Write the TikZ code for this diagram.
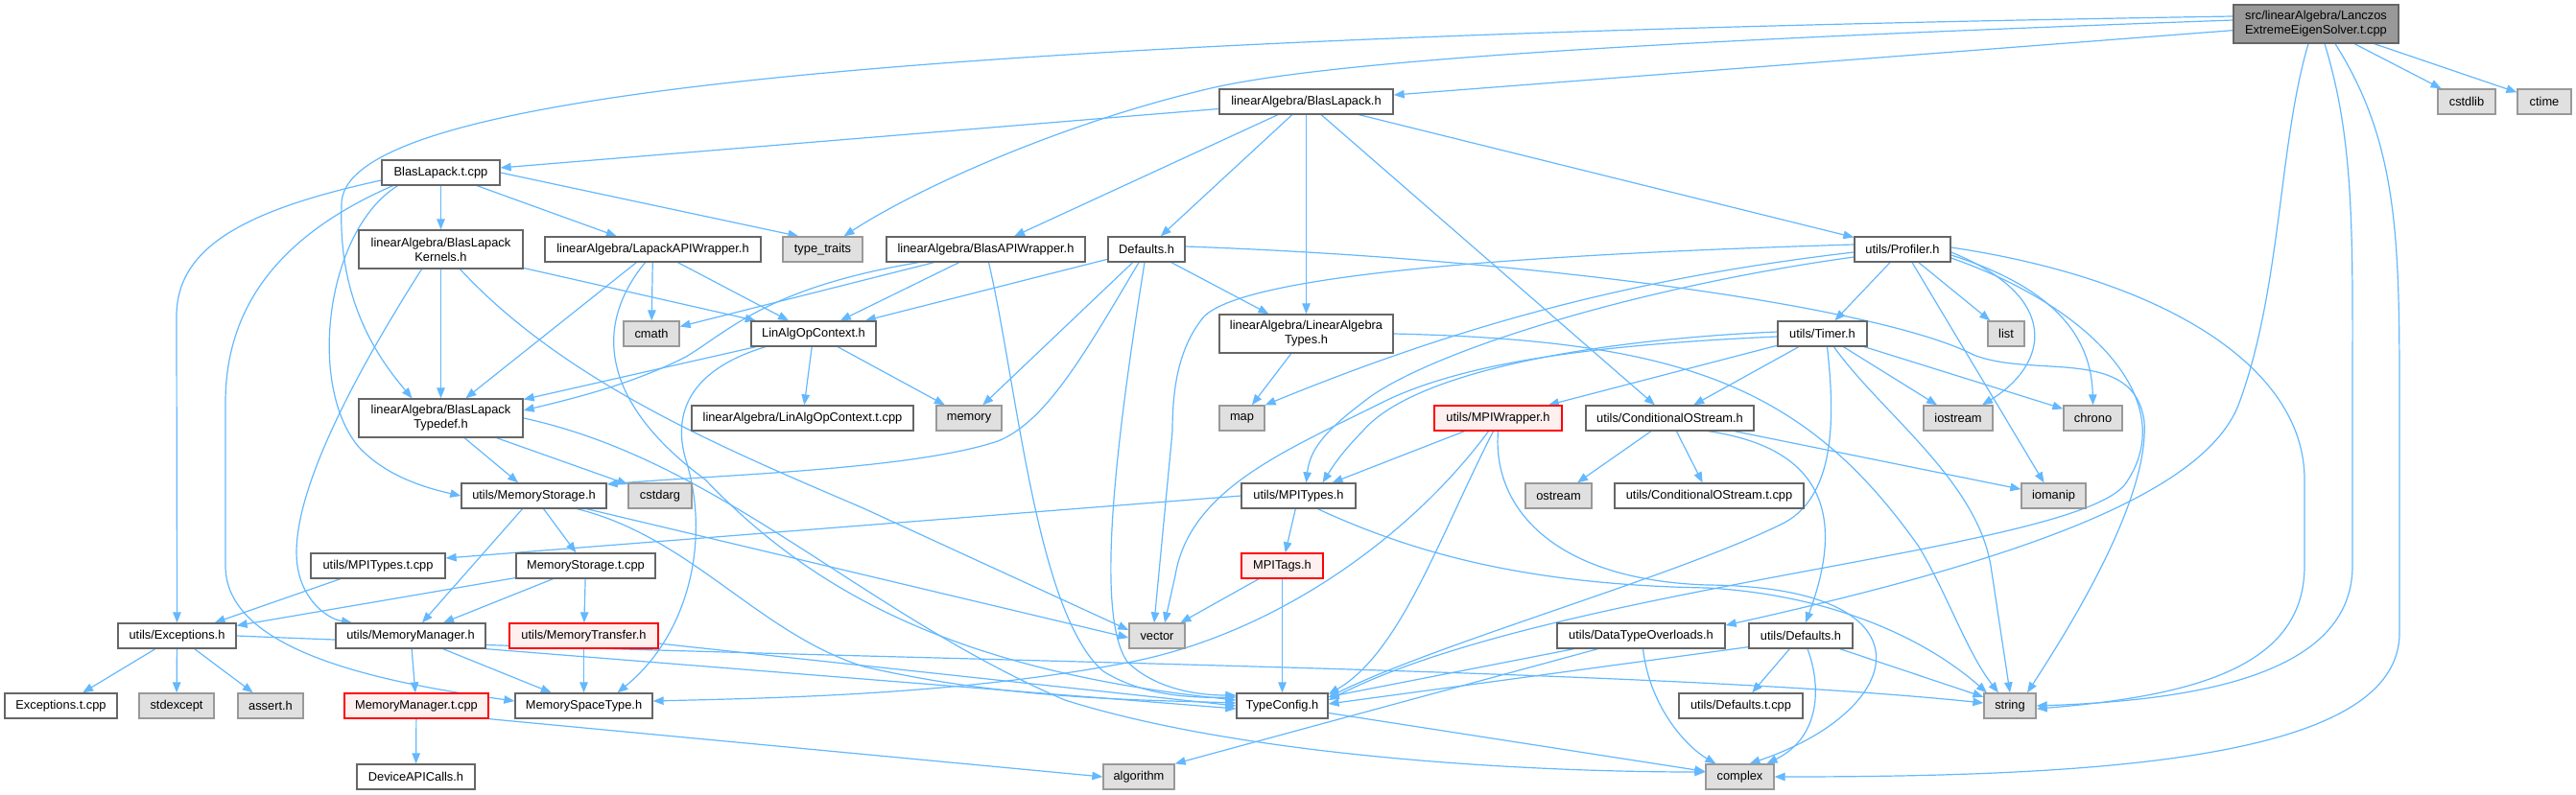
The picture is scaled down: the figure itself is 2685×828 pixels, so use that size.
\documentclass[tikz,border=0pt]{standalone}
\usepackage{fontspec}
\setmainfont{Liberation Sans}
\usetikzlibrary{arrows.meta}
\definecolor{edgec}{HTML}{63B8FF}
\definecolor{fborder}{HTML}{666666}
\definecolor{sfill}{HTML}{E0E0E0}
\definecolor{sborder}{HTML}{999999}
\definecolor{rootfill}{HTML}{999999}
\definecolor{redfill}{HTML}{FFF0F0}
\definecolor{redborder}{HTML}{FF0000}
\pgfdeclarelayer{background}
\pgfsetlayers{background,main}
\begin{document}
\begin{tikzpicture}[x=1pt,y=-1pt,
 box/.style={draw=fborder, fill=white, line width=1.3pt, inner sep=0pt, minimum height=26pt, align=center, font=\fontsize{12.84}{15}\selectfont},
 sysbox/.style={box, draw=sborder, fill=sfill},
 redbox/.style={box, draw=redborder, fill=redfill},
 rootbox/.style={box, fill=rootfill, minimum height=40pt},
 tallbox/.style={box, minimum height=40pt},
 edge/.style={draw=edgec, line width=1.2pt, -{Triangle[length=11pt,width=8.5pt]}},
]
\useasboundingbox (0,0) rectangle (2685,828);

% nodes
\node[rootbox, minimum width=172pt] (root) at (2414,25) {src/linearAlgebra/Lanczos\\ExtremeEigenSolver.t.cpp};
\node[sysbox, minimum width=60pt] (cstdlib) at (2571,106) {cstdlib};
\node[sysbox, minimum width=56pt] (ctime) at (2652,106) {ctime};
\node[box, minimum width=181pt] (blh) at (1361.5,106) {linearAlgebra/BlasLapack.h};
\node[box, minimum width=123pt] (blt) at (459.5,180) {BlasLapack.t.cpp};
\node[tallbox, minimum width=171pt] (kern) at (459.5,260) {linearAlgebra/BlasLapack\\Kernels.h};
\node[box, minimum width=225pt] (lapack) at (680.5,260) {linearAlgebra/LapackAPIWrapper.h};
\node[sysbox, minimum width=83pt] (ttraits) at (857.5,260) {type\_traits};
\node[box, minimum width=207pt] (bapi) at (1027.5,260) {linearAlgebra/BlasAPIWrapper.h};
\node[box, minimum width=80pt] (defs) at (1195,260) {Defaults.h};
\node[box, minimum width=100pt] (prof) at (1983,260) {utils/Profiler.h};
\node[sysbox, minimum width=58pt] (cmath) at (679,348) {cmath};
\node[box, minimum width=130pt] (linalg) at (848,348) {LinAlgOpContext.h};
\node[tallbox, minimum width=181pt] (lat) at (1361.5,348) {linearAlgebra/LinearAlgebra\\Types.h};
\node[box, minimum width=93pt] (timer) at (1899.5,348) {utils/Timer.h};
\node[sysbox, minimum width=38pt] (list) at (2091,348) {list};
\node[tallbox, minimum width=171pt] (tdef) at (459.5,436) {linearAlgebra/BlasLapack\\Typedef.h};
\node[box, minimum width=231pt] (lct) at (836.5,436) {linearAlgebra/LinAlgOpContext.t.cpp};
\node[sysbox, minimum width=68pt] (memory) at (1010,436) {memory};
\node[sysbox, minimum width=47pt] (map) at (1294.5,436) {map};
\node[redbox, minimum width=133pt] (mpiw) at (1561.5,436) {utils/MPIWrapper.h};
\node[box, minimum width=175pt] (cos) at (1740.5,436) {utils/ConditionalOStream.h};
\node[sysbox, minimum width=72pt] (iostream) at (2041,436) {iostream};
\node[sysbox, minimum width=61pt] (chrono) at (2181.5,436) {chrono};
\node[box, minimum width=151pt] (memstor) at (556.5,517) {utils/MemoryStorage.h};
\node[sysbox, minimum width=66pt] (cstdarg) at (688,517) {cstdarg};
\node[box, minimum width=119pt] (mpit) at (1353.5,517) {utils/MPITypes.h};
\node[sysbox, minimum width=69pt] (ostream) at (1624.5,517) {ostream};
\node[box, minimum width=197pt] (cost) at (1781.5,517) {utils/ConditionalOStream.t.cpp};
\node[sysbox, minimum width=67pt] (iomanip) at (2140.5,517) {iomanip};
\node[box, minimum width=140pt] (mpitt) at (394,590) {utils/MPITypes.t.cpp};
\node[box, minimum width=145pt] (mstt) at (610.5,590) {MemoryStorage.t.cpp};
\node[redbox, minimum width=85pt] (mpitags) at (1336.5,590) {MPITags.h};
\node[box, minimum width=123pt] (exc) at (184.5,663) {utils/Exceptions.h};
\node[box, minimum width=156pt] (mm) at (428,663) {utils/MemoryManager.h};
\node[redbox, minimum width=155pt] (mtr) at (608.5,663) {utils/MemoryTransfer.h};
\node[sysbox, minimum width=58pt] (vector) at (1206,663) {vector};
\node[box, minimum width=175pt] (dto) at (1710.5,663) {utils/DataTypeOverloads.h};
\node[box, minimum width=108pt] (udef) at (1877,663) {utils/Defaults.h};
\node[box, minimum width=117pt] (exct) at (63.5,736) {Exceptions.t.cpp};
\node[sysbox, minimum width=78pt] (stdexcept) at (184,736) {stdexcept};
\node[sysbox, minimum width=68pt] (assert) at (282,736) {assert.h};
\node[redbox, minimum width=150pt] (mmt) at (434,736) {MemoryManager.t.cpp};
\node[box, minimum width=143pt] (mspace) at (608.5,736) {MemorySpaceType.h};
\node[box, minimum width=95pt] (tc) at (1336.5,736) {TypeConfig.h};
\node[box, minimum width=129pt] (udeft) at (1814.5,736) {utils/Defaults.t.cpp};
\node[sysbox, minimum width=54pt] (string) at (2095,736) {string};
\node[box, minimum width=123pt] (dev) at (433.5,810) {DeviceAPICalls.h};
\node[sysbox, minimum width=74pt] (algorithm) at (1187,810) {algorithm};
\node[sysbox, minimum width=71pt] (complex) at (1813.5,810) {complex};

\begin{pgfonlayer}{background}
% root
\draw[edge] (root) -- (blh);
\draw[edge] ([yshift=4pt]root.west) .. controls (1800,40) and (1400,60) .. (1262,92) .. controls (1100,130) and (950,200) .. ([xshift=22pt]ttraits.north);
\draw[edge] ([yshift=8pt]root.west) .. controls (900,40) and (350,100) .. (356,215) .. controls (352,320) and (400,380) .. ([xshift=-30pt]tdef.north);
\draw[edge] ([xshift=-8pt]root.south) .. controls (2375,150) and (2378,300) .. (2334,420) .. controls (2299,516) and (2100,585) .. ([yshift=11pt]dto.east);
\draw[edge] ([xshift=9pt]root.south) .. controls (2455,150) and (2452,250) .. (2452,420) -- (2452,590) .. controls (2452,700) and (2300,730) .. (string.east);
\draw[edge] ([xshift=20pt]root.south) .. controls (2500,150) and (2501,250) .. (2501,420) -- (2501,660) .. controls (2501,790) and (2200,810) .. (complex.east);
\draw[edge] (root) -- (cstdlib);
\draw[edge] (root) -- (ctime);
% BlasLapack.h
\draw[edge] (blh) -- (blt);
\draw[edge] (blh) -- (bapi);
\draw[edge] (blh) -- (defs);
\draw[edge] (blh) -- (lat);
\draw[edge] (blh) -- (cos);
\draw[edge] (blh) -- (prof);
% BlasLapack.t.cpp
\draw[edge] (blt) -- (kern);
\draw[edge] (blt) -- (lapack);
\draw[edge] (blt.east) -- ([xshift=-25pt]ttraits.north);
\draw[edge] ([yshift=-8pt]blt.west) .. controls (250,220) and (184,260) .. (184,330) -- (exc.north);
\draw[edge] ([xshift=-45pt]blt.south) .. controls (340,240) and (320,400) .. (373,465) .. controls (400,495) and (440,508) .. (memstor.west);
\draw[edge] ([xshift=-50pt]blt.south) .. controls (280,250) and (235,330) .. (235,420) -- (235,590) .. controls (235,680) and (400,712) .. ([yshift=5pt]mspace.west);
% Kernels
\draw[edge] (kern) -- (tdef);
\draw[edge] (kern) -- (linalg);
\draw[edge] ([xshift=-20pt]kern.south) .. controls (370,390) and (300,520) .. (310,590) .. controls (315,625) and (340,645) .. ([xshift=-61pt]mm.north);
\draw[edge] ([xshift=20pt]kern.south) .. controls (590,400) and (760,470) .. (900,530) -- ([yshift=6pt]vector.west);
% LapackAPIWrapper
\draw[edge] (lapack) -- (tdef);
\draw[edge] (lapack) -- (cmath);
\draw[edge] (lapack) -- (linalg);
\draw[edge] ([xshift=-8pt]lapack.south) .. controls (610,350) and (640,430) .. (735,500) .. controls (850,620) and (1000,700) .. ([yshift=6pt]tc.west);
% BlasAPIWrapper
\draw[edge] (bapi) -- (cmath);
\draw[edge] ([xshift=-70pt]bapi.south) .. controls (800,300) and (760,345) .. (715,372) .. controls (660,400) and (600,415) .. ([yshift=8pt]tdef.east);
\draw[edge] (bapi) -- (linalg);
\draw[edge] ([xshift=3pt]bapi.south) .. controls (1060,400) and (1080,640) .. (1150,700) .. controls (1190,725) and (1240,728) .. ([yshift=9pt]tc.west);
% Defaults.h
\draw[edge] (defs) -- (linalg);
\draw[edge] (defs) -- (memory);
\draw[edge] ([xshift=-8pt]defs.south) .. controls (1130,370) and (1090,440) .. (1040,460) .. controls (950,490) and (750,495) .. ([yshift=12pt]memstor.east);
\draw[edge] ([xshift=-2pt]defs.south) .. controls (1165,450) and (1140,640) .. (1175,690) .. controls (1200,715) and (1240,725) .. ([yshift=11pt]tc.west);
\draw[edge] (defs) -- (lat);
\draw[edge] ([yshift=3pt]defs.east) .. controls (1600,270) and (1960,320) .. (2057,370) .. controls (2120,395) and (2225,360) .. (2235,440) .. controls (2240,520) and (2160,650) .. ([xshift=18pt]string.north);
% Profiler
\draw[edge] (prof) -- (timer);
\draw[edge] (prof) -- (list);
\draw[edge] ([xshift=10pt]prof.south) -- ([xshift=-10pt]iomanip.north);
\draw[edge] ([yshift=2pt]prof.east) .. controls (2250,290) and (2402,380) .. (2402,500) -- (2402,590) .. controls (2402,690) and (2300,725) .. ([yshift=-3pt]string.east);
\draw[edge] ([yshift=-3pt]prof.east) .. controls (2150,310) and (2135,380) .. ([xshift=25pt]iostream.north);
\draw[edge] ([yshift=-6pt]prof.east) .. controls (2140,300) and (2180,350) .. (chrono.north);
\draw[edge] ([yshift=-9pt]prof.east) .. controls (2180,320) and (2275,420) .. (2215,505) .. controls (2160,575) and (1620,610) .. ([yshift=6pt]tc.east);
\draw[edge] ([yshift=-3pt]prof.west) .. controls (1700,290) and (1520,340) .. (map.north east);
\draw[edge] ([yshift=5pt]prof.west) .. controls (1600,265) and (1300,285) .. (1255,330) .. controls (1230,360) and (1222,400) .. (1222,450) -- ([xshift=-3pt]vector.north);
\draw[edge] ([yshift=-8pt]prof.west) .. controls (1700,300) and (1480,370) .. (1420,420) .. controls (1380,450) and (1365,470) .. ([xshift=8pt]mpit.north);
% LinAlgOpContext
\draw[edge] (linalg) -- (tdef);
\draw[edge] (linalg) -- (lct);
\draw[edge] (linalg) -- (memory);
\draw[edge] ([xshift=-50pt]linalg.south) .. controls (720,385) and (700,430) .. (715,480) .. controls (740,560) and (720,660) .. ([xshift=35pt]mspace.north);
% LinearAlgebraTypes
\draw[edge] (lat) -- (map);
\draw[edge] (lat.east) .. controls (1750,355) and (1880,400) .. (2000,570) .. controls (2030,620) and (2050,680) .. ([xshift=-12pt]string.north);
% Timer
\draw[edge] (timer) -- (mpiw);
\draw[edge] (timer) -- (cos);
\draw[edge] ([yshift=2pt]timer.west) .. controls (1650,355) and (1470,390) .. (1420,450) .. controls (1400,470) and (1390,485) .. ([xshift=25pt]mpit.north);
\draw[edge] ([yshift=-3pt]timer.west) .. controls (1650,360) and (1520,380) .. (1440,420) .. controls (1340,470) and (1240,510) .. (1225,600) -- ([xshift=8pt]vector.north);
\draw[edge] ([xshift=5pt]timer.south) .. controls (1912,430) and (1915,515) .. (1860,545) .. controls (1750,600) and (1500,670) .. ([yshift=9pt]tc.east);
\draw[edge] ([xshift=12pt]timer.south) .. controls (1960,430) and (2060,500) .. (2075,590) -- (string.north);
\draw[edge] (timer) -- (iostream);
\draw[edge] (timer) -- (chrono);
% Typedef
\draw[edge] (tdef) -- (memstor);
\draw[edge] (tdef) -- (cstdarg);
\draw[edge] (tdef.east) .. controls (750,480) and (900,640) .. (1110,730) .. controls (1300,790) and (1600,805) .. ([yshift=5pt]complex.west);
% MPIWrapper
\draw[edge] (mpiw) -- (mpit);
\draw[edge] ([xshift=-5pt]mpiw.south) .. controls (1500,560) and (1460,680) .. ([yshift=12pt]tc.east);
\draw[edge] ([xshift=-10pt]mpiw.south) .. controls (1470,560) and (1330,660) .. (1180,690) .. controls (1000,725) and (800,728) .. ([yshift=5pt]mspace.east);
\draw[edge] (mpiw.south) .. controls (1555,530) and (1620,605) .. (1780,610) .. controls (2020,612) and (1990,740) .. ([xshift=10pt]complex.north);
% ConditionalOStream
\draw[edge] (cos) -- (ostream);
\draw[edge] (cos) -- (cost);
\draw[edge] (cos) -- (iomanip);
\draw[edge] ([xshift=40pt]cos.south) .. controls (1920,470) and (1915,560) .. ([xshift=5pt]udef.north);
% MemoryStorage.h
\draw[edge] (memstor) -- (mm);
\draw[edge] (memstor) -- (mstt);
\draw[edge] ([xshift=45pt]memstor.south) .. controls (720,560) and (790,660) .. (900,695) .. controls (1050,730) and (1200,730) .. ([yshift=3pt]tc.west);
\draw[edge] ([xshift=55pt]memstor.south) -- ([yshift=-2pt]vector.west);
% MPITypes
\draw[edge] (mpit.west) -- ([yshift=8pt]mpitt.east);
\draw[edge] (mpit) -- (mpitags);
\draw[edge] ([xshift=20pt]mpit.south) .. controls (1480,580) and (1600,610) .. (1780,613) .. controls (1900,620) and (2000,660) .. ([xshift=-24pt]string.north);
% others
\draw[edge] (mpitt) -- (exc);
\draw[edge] (mstt) -- (exc);
\draw[edge] (mstt) -- (mm);
\draw[edge] (mstt) -- (mtr);
\draw[edge] (mpitags) -- (vector);
\draw[edge] (mpitags) -- (tc);
\draw[edge] (exc) -- (exct);
\draw[edge] (exc) -- (stdexcept);
\draw[edge] (exc) -- (assert);
\draw[edge] (exc.east) .. controls (900,690) and (1700,695) .. ([yshift=3pt]string.west);
\draw[edge] (mm) -- (mmt);
\draw[edge] (mm) -- (mspace);
\draw[edge] (mm.south east) -- ([yshift=-3pt]tc.west);
\draw[edge] (mtr) -- (mspace);
\draw[edge] ([yshift=-8pt]mtr.east) -- ([yshift=0pt]tc.west);
\draw[edge] (dto) -- (tc);
\draw[edge] ([xshift=-45pt]dto.south) -- (algorithm.north east);
\draw[edge] ([xshift=2pt]dto.south) .. controls (1720,740) and (1760,780) .. ([xshift=-25pt]complex.north);
\draw[edge] (udef) -- (udeft);
\draw[edge] (udef) -- (string);
\draw[edge] ([xshift=7pt]udef.south) .. controls (1900,720) and (1895,770) .. ([xshift=28pt]complex.north);
\draw[edge] ([yshift=2pt]udef.south west) -- ([yshift=2pt]tc.east);
\draw[edge] (mmt) -- (dev);
\draw[edge] (mmt.south east) -- (algorithm.west);
\draw[edge] (tc) -- (complex);
\end{pgfonlayer}
\end{tikzpicture}
\end{document}
